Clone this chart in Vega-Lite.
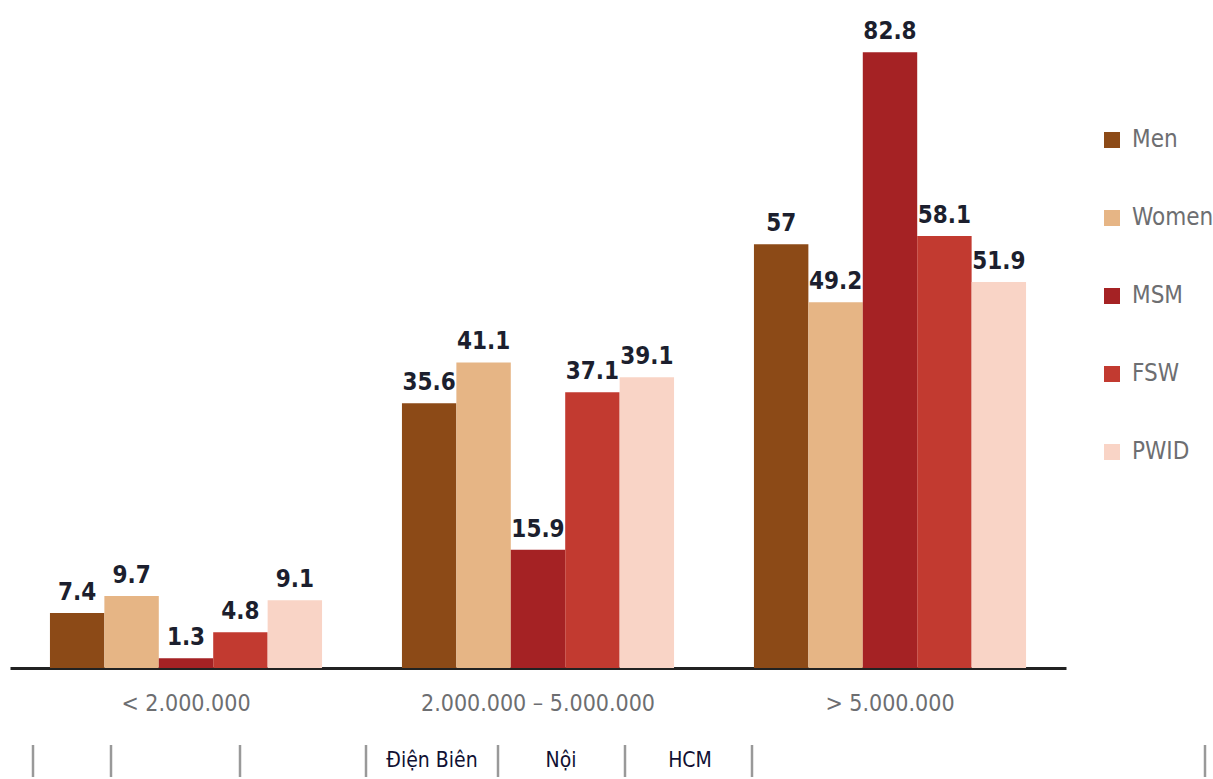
{
  "$schema": "https://vega.github.io/schema/vega-lite/v6.json",
  "padding": {"left": 10, "top": 20, "right": 0, "bottom": 0},
  "background": "white",
  "config": {"view": {"stroke": null}, "font": "DejaVu Sans Condensed"},
  "spacing": 28,
  "vconcat": [
    {
      "width": 1056,
      "height": 632,
      "data": {"values": [
        {"group": "< 2.000.000", "series": "Men", "value": 7.4},
        {"group": "< 2.000.000", "series": "Women", "value": 9.7},
        {"group": "< 2.000.000", "series": "MSM", "value": 1.3},
        {"group": "< 2.000.000", "series": "FSW", "value": 4.8},
        {"group": "< 2.000.000", "series": "PWID", "value": 9.1},
        {"group": "2.000.000 – 5.000.000", "series": "Men", "value": 35.6},
        {"group": "2.000.000 – 5.000.000", "series": "Women", "value": 41.1},
        {"group": "2.000.000 – 5.000.000", "series": "MSM", "value": 15.9},
        {"group": "2.000.000 – 5.000.000", "series": "FSW", "value": 37.1},
        {"group": "2.000.000 – 5.000.000", "series": "PWID", "value": 39.1},
        {"group": "> 5.000.000", "series": "Men", "value": 57},
        {"group": "> 5.000.000", "series": "Women", "value": 49.2},
        {"group": "> 5.000.000", "series": "MSM", "value": 82.8},
        {"group": "> 5.000.000", "series": "FSW", "value": 58.1},
        {"group": "> 5.000.000", "series": "PWID", "value": 51.9}
      ]},
      "encoding": {
        "x": {"field": "group", "type": "nominal", "sort": null,
              "scale": {"paddingInner": 0.227, "paddingOuter": 0.1135},
              "axis": {"title": null, "domainColor": "#222222", "domainWidth": 3, "ticks": false,
                       "labelAngle": 0, "labelFontSize": 23, "labelColor": "#6d6e71", "labelLimit": 0,
                       "labelPadding": 24, "labelFont": "DejaVu Sans Condensed"}},
        "xOffset": {"field": "series", "type": "nominal", "sort": ["Men", "Women", "MSM", "FSW", "PWID"],
                    "scale": {"paddingInner": 0, "paddingOuter": 0}},
        "y": {"field": "value", "type": "quantitative", "scale": {"domain": [0, 85]}, "axis": null}
      },
      "layer": [
        {
          "mark": {"type": "bar"},
          "encoding": {
            "color": {"field": "series", "type": "nominal",
                      "scale": {"domain": ["Men", "Women", "MSM", "FSW", "PWID"],
                                "range": ["#8c4a17", "#e6b585", "#a52224", "#c23a30", "#f9d4c6"]},
                      "legend": {"title": null, "orient": "none", "legendX": 1090, "legendY": 92,
                                 "symbolType": "square", "symbolSize": 256, "symbolStrokeWidth": 0,
                                 "labelFontSize": 24, "labelColor": "#6d6e71", "labelFont": "DejaVu Sans Condensed",
                                 "labelLimit": 0, "rowPadding": 54, "labelOffset": 8}}
          }
        },
        {
          "mark": {"type": "text", "baseline": "alphabetic", "dy": -13, "fontSize": 24, "fontWeight": "bold",
                   "color": "#1c1f2e", "font": "DejaVu Sans Condensed"},
          "encoding": {"text": {"field": "value", "type": "nominal"}}
        }
      ]
    },
    {
      "width": 1200,
      "height": 32,
      "data": {"values": [
        {"pos": 23, "label": "", "kind": "line"},
        {"pos": 101, "label": "", "kind": "line"},
        {"pos": 230, "label": "", "kind": "line"},
        {"pos": 356, "label": "", "kind": "line"},
        {"pos": 488, "label": "", "kind": "line"},
        {"pos": 615, "label": "", "kind": "line"},
        {"pos": 742, "label": "", "kind": "line"},
        {"pos": 1195, "label": "", "kind": "line"},
        {"pos": 422, "label": "Điện Biên", "kind": "text"},
        {"pos": 551, "label": "Nội", "kind": "text"},
        {"pos": 680, "label": "HCM", "kind": "text"}
      ]},
      "encoding": {
        "x": {"field": "pos", "type": "quantitative", "scale": {"domain": [0, 1200]}, "axis": null}
      },
      "layer": [
        {
          "transform": [{"filter": "datum.kind === 'line'"}],
          "mark": {"type": "rule", "color": "#999999", "strokeWidth": 2.5},
          "encoding": {}
        },
        {
          "transform": [{"filter": "datum.kind === 'text'"}],
          "mark": {"type": "text", "fontSize": 21, "color": "#111133", "font": "DejaVu Sans Condensed", "baseline": "middle"},
          "encoding": {"text": {"field": "label", "type": "nominal"}}
        }
      ]
    }
  ]
}
